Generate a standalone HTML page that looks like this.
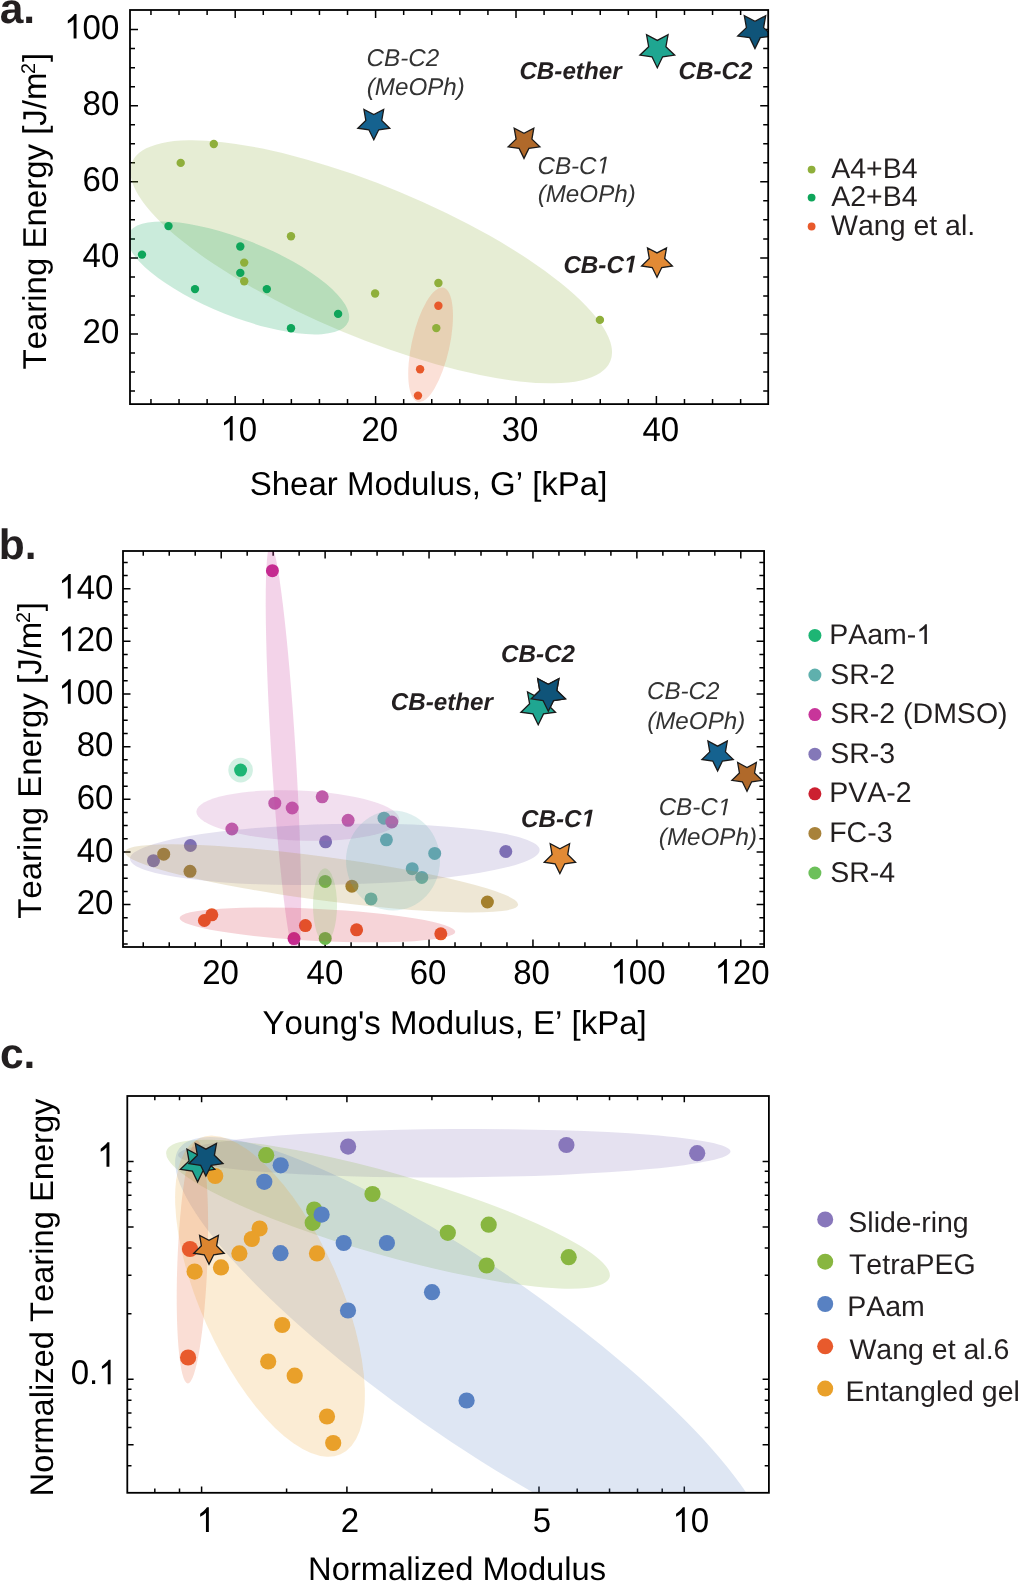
<!DOCTYPE html>
<html><head><meta charset="utf-8"><style>
html,body{margin:0;padding:0;background:#fff;width:1020px;height:1581px;overflow:hidden}
svg{display:block;will-change:transform}
text{font-family:"Liberation Sans",sans-serif;font-kerning:none;text-rendering:geometricPrecision}
</style></head><body>
<svg width="1020" height="1581" viewBox="0 0 1020 1581">
<path d="M235.20,404.1v-8M235.20,10v8M375.60,404.1v-8M375.60,10v8M516.00,404.1v-8M516.00,10v8M656.40,404.1v-8M656.40,10v8" stroke="#000" stroke-width="1.5" fill="none"/>
<path d="M150.96,404.1v-5M150.96,10v5M179.04,404.1v-5M179.04,10v5M207.12,404.1v-5M207.12,10v5M263.28,404.1v-5M263.28,10v5M291.36,404.1v-5M291.36,10v5M319.44,404.1v-5M319.44,10v5M347.52,404.1v-5M347.52,10v5M403.68,404.1v-5M403.68,10v5M431.76,404.1v-5M431.76,10v5M459.84,404.1v-5M459.84,10v5M487.92,404.1v-5M487.92,10v5M544.08,404.1v-5M544.08,10v5M572.16,404.1v-5M572.16,10v5M600.24,404.1v-5M600.24,10v5M628.32,404.1v-5M628.32,10v5M684.48,404.1v-5M684.48,10v5M712.56,404.1v-5M712.56,10v5M740.64,404.1v-5M740.64,10v5" stroke="#000" stroke-width="1.5" fill="none"/>
<path d="M130,334.00h8M768.2,334.00h-8M130,257.90h8M768.2,257.90h-8M130,181.80h8M768.2,181.80h-8M130,105.70h8M768.2,105.70h-8M130,29.60h8M768.2,29.60h-8" stroke="#000" stroke-width="1.5" fill="none"/>
<path d="M130,391.08h5M768.2,391.08h-5M130,372.05h5M768.2,372.05h-5M130,353.03h5M768.2,353.03h-5M130,314.98h5M768.2,314.98h-5M130,295.95h5M768.2,295.95h-5M130,276.93h5M768.2,276.93h-5M130,238.88h5M768.2,238.88h-5M130,219.85h5M768.2,219.85h-5M130,200.82h5M768.2,200.82h-5M130,162.78h5M768.2,162.78h-5M130,143.75h5M768.2,143.75h-5M130,124.72h5M768.2,124.72h-5M130,86.68h5M768.2,86.68h-5M130,67.65h5M768.2,67.65h-5M130,48.62h5M768.2,48.62h-5" stroke="#000" stroke-width="1.5" fill="none"/>
<clipPath id="ca"><rect x="130" y="10" width="638.20" height="394.10"/></clipPath>
<g clip-path="url(#ca)">
<ellipse cx="371.2" cy="261.8" rx="259.0" ry="75.4" transform="rotate(22.61 371.2 261.8)" fill="#8faf3b" fill-opacity="0.22"/>
<ellipse cx="238.3" cy="277.9" rx="118.4" ry="38.3" transform="rotate(21.77 238.3 277.9)" fill="#0ea55a" fill-opacity="0.22"/>
<ellipse cx="430.6" cy="344.8" rx="58.6" ry="18.9" transform="rotate(-77.49 430.6 344.8)" fill="#e8592b" fill-opacity="0.19"/>
<circle cx="213.8" cy="144.0" r="4.2" fill="#8faf3b"/>
<circle cx="180.7" cy="162.9" r="4.2" fill="#8faf3b"/>
<circle cx="291.0" cy="236.2" r="4.2" fill="#8faf3b"/>
<circle cx="244.2" cy="262.6" r="4.2" fill="#8faf3b"/>
<circle cx="244.2" cy="281.3" r="4.2" fill="#8faf3b"/>
<circle cx="375.1" cy="293.5" r="4.2" fill="#8faf3b"/>
<circle cx="438.4" cy="283.0" r="4.2" fill="#8faf3b"/>
<circle cx="436.3" cy="328.1" r="4.2" fill="#8faf3b"/>
<circle cx="599.9" cy="319.9" r="4.2" fill="#8faf3b"/>
<circle cx="168.5" cy="226.1" r="4.2" fill="#0ea55a"/>
<circle cx="142.0" cy="254.6" r="4.2" fill="#0ea55a"/>
<circle cx="240.3" cy="246.5" r="4.2" fill="#0ea55a"/>
<circle cx="240.3" cy="272.9" r="4.2" fill="#0ea55a"/>
<circle cx="195.0" cy="289.1" r="4.2" fill="#0ea55a"/>
<circle cx="266.8" cy="289.1" r="4.2" fill="#0ea55a"/>
<circle cx="338.1" cy="313.9" r="4.2" fill="#0ea55a"/>
<circle cx="291.0" cy="328.3" r="4.2" fill="#0ea55a"/>
<circle cx="438.4" cy="305.8" r="4.2" fill="#e8592b"/>
<circle cx="420.1" cy="369.2" r="4.2" fill="#e8592b"/>
<circle cx="418.0" cy="395.6" r="4.2" fill="#e8592b"/>
<polygon points="373.80,139.80 368.88,129.77 357.82,128.19 365.84,120.41 363.93,109.41 373.80,114.63 383.67,109.41 381.76,120.41 389.78,128.19 378.72,129.77" fill="#15628f" stroke="#1a1a1a" stroke-width="1.3" stroke-linejoin="miter" stroke-miterlimit="10"/>
<polygon points="755.00,48.60 749.70,37.70 737.69,36.02 746.42,27.61 744.30,15.68 755.00,21.38 765.70,15.68 763.58,27.61 772.31,36.02 760.30,37.70" fill="#0f5479" stroke="#1a1a1a" stroke-width="1.3" stroke-linejoin="miter" stroke-miterlimit="10"/>
<polygon points="657.30,67.80 651.97,56.84 639.90,55.16 648.67,46.70 646.54,34.69 657.30,40.43 668.06,34.69 665.93,46.70 674.70,55.16 662.63,56.84" fill="#1fa691" stroke="#1a1a1a" stroke-width="1.3" stroke-linejoin="miter" stroke-miterlimit="10"/>
<polygon points="524.00,158.40 519.11,148.43 508.12,146.86 516.09,139.13 514.18,128.19 524.00,133.38 533.82,128.19 531.91,139.13 539.88,146.86 528.89,148.43" fill="#b0692a" stroke="#1a1a1a" stroke-width="1.3" stroke-linejoin="miter" stroke-miterlimit="10"/>
<polygon points="657.00,277.20 652.25,267.54 641.59,266.01 649.31,258.50 647.48,247.89 657.00,252.92 666.52,247.89 664.69,258.50 672.41,266.01 661.75,267.54" fill="#e28a35" stroke="#1a1a1a" stroke-width="1.3" stroke-linejoin="miter" stroke-miterlimit="10"/>
</g>
<rect x="130" y="10" width="638.20" height="394.10" fill="none" stroke="#000" stroke-width="1.8"/>
<g transform="translate(0 440.60) scale(1 1.04) translate(0 -440.60)">
<polygon points="229.79,440.60 232.69,440.60 232.69,416.99 230.80,416.99 229.42,418.70 227.48,420.47 223.99,423.24 223.99,426.04 227.16,424.33 229.79,422.13" fill="#000"/>
<text x="238.75" y="440.60" font-size="33" font-weight="normal" font-style="normal" fill="#000">0</text>
</g>
<g transform="translate(0 440.60) scale(1 1.04) translate(0 -440.60)">
<text x="361.46" y="440.60" font-size="33" font-weight="normal" font-style="normal" fill="#000">20</text>
</g>
<g transform="translate(0 440.60) scale(1 1.04) translate(0 -440.60)">
<text x="501.76" y="440.60" font-size="33" font-weight="normal" font-style="normal" fill="#000">30</text>
</g>
<g transform="translate(0 440.60) scale(1 1.04) translate(0 -440.60)">
<text x="642.51" y="440.60" font-size="33" font-weight="normal" font-style="normal" fill="#000">40</text>
</g>
<g transform="translate(0 343.00) scale(1 1.04) translate(0 -343.00)">
<text x="82.58" y="343.00" font-size="33" font-weight="normal" font-style="normal" fill="#000">20</text>
</g>
<g transform="translate(0 266.90) scale(1 1.04) translate(0 -266.90)">
<text x="82.58" y="266.90" font-size="33" font-weight="normal" font-style="normal" fill="#000">40</text>
</g>
<g transform="translate(0 190.80) scale(1 1.04) translate(0 -190.80)">
<text x="82.58" y="190.80" font-size="33" font-weight="normal" font-style="normal" fill="#000">60</text>
</g>
<g transform="translate(0 114.70) scale(1 1.04) translate(0 -114.70)">
<text x="82.58" y="114.70" font-size="33" font-weight="normal" font-style="normal" fill="#000">80</text>
</g>
<g transform="translate(0 38.60) scale(1 1.04) translate(0 -38.60)">
<polygon points="73.62,38.60 76.52,38.60 76.52,14.99 74.64,14.99 73.25,16.70 71.32,18.47 67.82,21.24 67.82,24.04 71.00,22.33 73.62,20.13" fill="#000"/>
<text x="82.58" y="38.60" font-size="33" font-weight="normal" font-style="normal" fill="#000">00</text>
</g>
<text x="249.70" y="494.80" font-size="33" font-weight="normal" font-style="normal" fill="#000">Shear Modulus, G’ [kPa]</text>
<g transform="translate(46.00,369.60) rotate(-90)">
<text x="0.00" y="0.00" font-size="33" font-weight="normal" font-style="normal" fill="#000">Tearing Energy [J/m</text>
<text x="295.71" y="-11.00" font-size="19.8" font-weight="normal" font-style="normal" fill="#000">2</text>
<text x="307.52" y="0.00" font-size="33" font-weight="normal" font-style="normal" fill="#000">]</text>
</g>
<text x="-0.35" y="22.60" font-size="42.5" font-weight="bold" font-style="normal" fill="#231f20">a.</text>
<text x="366.56" y="65.50" font-size="24.2" font-weight="normal" font-style="italic" fill="#333">CB-C2</text>
<text x="366.77" y="94.70" font-size="24.2" font-weight="normal" font-style="italic" fill="#333">(MeOPh)</text>
<text x="519.42" y="78.60" font-size="24.2" font-weight="bold" font-style="italic" fill="#231f20">CB-ether</text>
<text x="678.62" y="78.60" font-size="24.2" font-weight="bold" font-style="italic" fill="#231f20">CB-C2</text>
<text x="537.46" y="173.50" font-size="24.2" font-weight="normal" font-style="italic" fill="#333">CB-C</text>
<polygon points="601.49,173.50 603.62,173.50 606.86,156.85 604.90,156.85 600.45,159.56 600.03,161.68 604.30,159.05" fill="#333"/>
<text x="537.67" y="202.40" font-size="24.2" font-weight="normal" font-style="italic" fill="#333">(MeOPh)</text>
<text x="563.42" y="272.50" font-size="24.2" font-weight="bold" font-style="italic" fill="#231f20">CB-C</text>
<polygon points="628.40,272.50 631.72,272.50 634.97,255.85 631.78,255.85 627.10,258.56 626.54,261.42 631.04,258.89" fill="#231f20"/>
<circle cx="811.6" cy="169.6" r="3.9" fill="#8faf3b"/>
<text x="831.14" y="177.60" font-size="28.5" font-weight="normal" font-style="normal" fill="#231f20">A4+B4</text>
<circle cx="811.6" cy="197.6" r="3.9" fill="#0ea55a"/>
<text x="831.14" y="205.60" font-size="28.5" font-weight="normal" font-style="normal" fill="#231f20">A2+B4</text>
<circle cx="811.6" cy="226.5" r="3.9" fill="#e8592b"/>
<text x="831.07" y="234.50" font-size="28.5" font-weight="normal" font-style="normal" fill="#231f20">Wang et al.</text>
<path d="M221.20,947.0v-7.5M221.20,551.0v7.5M325.12,947.0v-7.5M325.12,551.0v7.5M429.04,947.0v-7.5M429.04,551.0v7.5M532.96,947.0v-7.5M532.96,551.0v7.5M636.88,947.0v-7.5M636.88,551.0v7.5M740.80,947.0v-7.5M740.80,551.0v7.5" stroke="#000" stroke-width="1.5" fill="none"/>
<path d="M143.26,947.0v-4.7M143.26,551.0v4.7M169.24,947.0v-4.7M169.24,551.0v4.7M195.22,947.0v-4.7M195.22,551.0v4.7M247.18,947.0v-4.7M247.18,551.0v4.7M273.16,947.0v-4.7M273.16,551.0v4.7M299.14,947.0v-4.7M299.14,551.0v4.7M351.10,947.0v-4.7M351.10,551.0v4.7M377.08,947.0v-4.7M377.08,551.0v4.7M403.06,947.0v-4.7M403.06,551.0v4.7M455.02,947.0v-4.7M455.02,551.0v4.7M481.00,947.0v-4.7M481.00,551.0v4.7M506.98,947.0v-4.7M506.98,551.0v4.7M558.94,947.0v-4.7M558.94,551.0v4.7M584.92,947.0v-4.7M584.92,551.0v4.7M610.90,947.0v-4.7M610.90,551.0v4.7M662.86,947.0v-4.7M662.86,551.0v4.7M688.84,947.0v-4.7M688.84,551.0v4.7M714.82,947.0v-4.7M714.82,551.0v4.7" stroke="#000" stroke-width="1.5" fill="none"/>
<path d="M123.0,904.60h7.5M764.1,904.60h-7.5M123.0,851.95h7.5M764.1,851.95h-7.5M123.0,799.30h7.5M764.1,799.30h-7.5M123.0,746.65h7.5M764.1,746.65h-7.5M123.0,694.00h7.5M764.1,694.00h-7.5M123.0,641.35h7.5M764.1,641.35h-7.5M123.0,588.70h7.5M764.1,588.70h-7.5" stroke="#000" stroke-width="1.5" fill="none"/>
<path d="M123.0,944.09h4.7M764.1,944.09h-4.7M123.0,930.92h4.7M764.1,930.92h-4.7M123.0,917.76h4.7M764.1,917.76h-4.7M123.0,891.44h4.7M764.1,891.44h-4.7M123.0,878.28h4.7M764.1,878.28h-4.7M123.0,865.11h4.7M764.1,865.11h-4.7M123.0,838.79h4.7M764.1,838.79h-4.7M123.0,825.62h4.7M764.1,825.62h-4.7M123.0,812.46h4.7M764.1,812.46h-4.7M123.0,786.14h4.7M764.1,786.14h-4.7M123.0,772.98h4.7M764.1,772.98h-4.7M123.0,759.81h4.7M764.1,759.81h-4.7M123.0,733.49h4.7M764.1,733.49h-4.7M123.0,720.33h4.7M764.1,720.33h-4.7M123.0,707.16h4.7M764.1,707.16h-4.7M123.0,680.84h4.7M764.1,680.84h-4.7M123.0,667.68h4.7M764.1,667.68h-4.7M123.0,654.51h4.7M764.1,654.51h-4.7M123.0,628.19h4.7M764.1,628.19h-4.7M123.0,615.03h4.7M764.1,615.03h-4.7M123.0,601.86h4.7M764.1,601.86h-4.7M123.0,575.54h4.7M764.1,575.54h-4.7M123.0,562.38h4.7M764.1,562.38h-4.7" stroke="#000" stroke-width="1.5" fill="none"/>
<clipPath id="cb"><rect x="123.0" y="551.0" width="641.10" height="396.00"/></clipPath>
<g clip-path="url(#cb)">
<circle cx="240.6" cy="770.1" r="12.3" fill="#1db574" fill-opacity="0.2"/>
<circle cx="240.6" cy="770.1" r="6.5" fill="#1db574"/>
<circle cx="384.0" cy="818.2" r="6.5" fill="#5fb0ad"/>
<circle cx="386.4" cy="839.8" r="6.5" fill="#5fb0ad"/>
<circle cx="434.7" cy="853.4" r="6.5" fill="#5fb0ad"/>
<circle cx="412.2" cy="868.7" r="6.5" fill="#5fb0ad"/>
<circle cx="421.8" cy="877.4" r="6.5" fill="#5fb0ad"/>
<circle cx="371.0" cy="898.9" r="6.5" fill="#5fb0ad"/>
<circle cx="231.9" cy="829.0" r="6.5" fill="#c05aa8"/>
<circle cx="274.8" cy="803.2" r="6.5" fill="#c05aa8"/>
<circle cx="292.2" cy="808.0" r="6.5" fill="#c05aa8"/>
<circle cx="322.2" cy="796.8" r="6.5" fill="#c05aa8"/>
<circle cx="348.1" cy="820.3" r="6.5" fill="#c05aa8"/>
<circle cx="391.8" cy="822.0" r="6.5" fill="#c05aa8"/>
<circle cx="272.4" cy="570.7" r="6.5" fill="#c4288f"/>
<circle cx="294.0" cy="938.6" r="6.5" fill="#c4288f"/>
<circle cx="153.5" cy="860.7" r="6.5" fill="#7e70b5"/>
<circle cx="190.4" cy="845.5" r="6.5" fill="#7e70b5"/>
<circle cx="325.6" cy="841.8" r="6.5" fill="#7e70b5"/>
<circle cx="505.8" cy="851.5" r="6.5" fill="#7e70b5"/>
<circle cx="163.7" cy="854.2" r="6.5" fill="#a07c28"/>
<circle cx="190.0" cy="871.3" r="6.5" fill="#a07c28"/>
<circle cx="351.9" cy="886.2" r="6.5" fill="#a07c28"/>
<circle cx="487.4" cy="902.0" r="6.5" fill="#a07c28"/>
<circle cx="325.2" cy="881.4" r="6.5" fill="#6cb84c"/>
<circle cx="325.2" cy="938.4" r="6.5" fill="#6cb84c"/>
<circle cx="204.4" cy="920.5" r="6.5" fill="#e85a26"/>
<circle cx="211.8" cy="914.8" r="6.5" fill="#e85a26"/>
<circle cx="305.4" cy="925.6" r="6.5" fill="#e85a26"/>
<circle cx="356.6" cy="929.8" r="6.5" fill="#e85a26"/>
<circle cx="440.8" cy="933.8" r="6.5" fill="#e85a26"/>
<ellipse cx="283.4" cy="752.3" rx="208.0" ry="12.2" transform="rotate(86.46 283.4 752.3)" fill="#c8379b" fill-opacity="0.22"/>
<ellipse cx="297.9" cy="815.5" rx="101.6" ry="25.0" transform="rotate(2.30 297.9 815.5)" fill="#c060b0" fill-opacity="0.2"/>
<ellipse cx="334.8" cy="854.4" rx="204.9" ry="30.4" transform="rotate(-1.25 334.8 854.4)" fill="#7e70b5" fill-opacity="0.2"/>
<ellipse cx="321.5" cy="878.4" rx="198.4" ry="21.8" transform="rotate(7.64 321.5 878.4)" fill="#b09040" fill-opacity="0.22"/>
<ellipse cx="317.4" cy="924.9" rx="138.0" ry="16.0" transform="rotate(2.90 317.4 924.9)" fill="#d02a3a" fill-opacity="0.2"/>
<ellipse cx="393.0" cy="860.6" rx="47.0" ry="50.0" transform="rotate(0.00 393.0 860.6)" fill="#5fb0ad" fill-opacity="0.2"/>
<ellipse cx="325.0" cy="905.3" rx="12.0" ry="37.0" transform="rotate(0.00 325.0 905.3)" fill="#6cb84c" fill-opacity="0.2"/>
<polygon points="548.30,711.30 543.05,700.52 531.18,698.86 539.81,690.54 537.72,678.74 548.30,684.37 558.88,678.74 556.79,690.54 565.42,698.86 553.55,700.52" fill="#0f5479" stroke="#1a1a1a" stroke-width="1.3" stroke-linejoin="miter" stroke-miterlimit="10"/>
<polygon points="538.20,724.80 532.90,713.90 520.89,712.22 529.62,703.81 527.50,691.88 538.20,697.58 548.90,691.88 546.78,703.81 555.51,712.22 543.50,713.90" fill="#1fa691" stroke="#1a1a1a" stroke-width="1.3" stroke-linejoin="miter" stroke-miterlimit="10"/>
<polygon points="548.30,711.30 543.05,700.52 531.18,698.86 539.81,690.54 537.72,678.74 548.30,684.37 558.88,678.74 556.79,690.54 565.42,698.86 553.55,700.52" fill="#0f5479" stroke="#1a1a1a" stroke-width="1.3" stroke-linejoin="miter" stroke-miterlimit="10"/>
<polygon points="559.90,873.60 555.07,863.75 544.21,862.20 552.08,854.56 550.20,843.75 559.90,848.88 569.60,843.75 567.72,854.56 575.59,862.20 564.73,863.75" fill="#e28a35" stroke="#1a1a1a" stroke-width="1.3" stroke-linejoin="miter" stroke-miterlimit="10"/>
<polygon points="717.60,770.90 712.77,761.05 701.91,759.50 709.78,751.86 707.90,741.05 717.60,746.17 727.30,741.05 725.42,751.86 733.29,759.50 722.43,761.05" fill="#15628f" stroke="#1a1a1a" stroke-width="1.3" stroke-linejoin="miter" stroke-miterlimit="10"/>
<polygon points="747.00,791.30 742.33,781.83 731.88,780.31 739.45,772.95 737.65,762.54 747.00,767.46 756.35,762.54 754.55,772.95 762.12,780.31 751.67,781.83" fill="#b0692a" stroke="#1a1a1a" stroke-width="1.3" stroke-linejoin="miter" stroke-miterlimit="10"/>
</g>
<rect x="123.0" y="551.0" width="641.10" height="396.00" fill="none" stroke="#000" stroke-width="1.8"/>
<g transform="translate(0 983.60) scale(1 1.04) translate(0 -983.60)">
<text x="202.26" y="983.60" font-size="33" font-weight="normal" font-style="normal" fill="#000">20</text>
</g>
<g transform="translate(0 983.60) scale(1 1.04) translate(0 -983.60)">
<text x="306.61" y="983.60" font-size="33" font-weight="normal" font-style="normal" fill="#000">40</text>
</g>
<g transform="translate(0 983.60) scale(1 1.04) translate(0 -983.60)">
<text x="409.75" y="983.60" font-size="33" font-weight="normal" font-style="normal" fill="#000">60</text>
</g>
<g transform="translate(0 983.60) scale(1 1.04) translate(0 -983.60)">
<text x="513.27" y="983.60" font-size="33" font-weight="normal" font-style="normal" fill="#000">80</text>
</g>
<g transform="translate(0 983.60) scale(1 1.04) translate(0 -983.60)">
<polygon points="619.91,983.60 622.81,983.60 622.81,959.99 620.93,959.99 619.54,961.70 617.61,963.47 614.11,966.24 614.11,969.04 617.29,967.33 619.91,965.13" fill="#000"/>
<text x="628.87" y="983.60" font-size="33" font-weight="normal" font-style="normal" fill="#000">00</text>
</g>
<g transform="translate(0 983.60) scale(1 1.04) translate(0 -983.60)">
<polygon points="724.01,983.60 726.91,983.60 726.91,959.99 725.03,959.99 723.64,961.70 721.71,963.47 718.21,966.24 718.21,969.04 721.39,967.33 724.01,965.13" fill="#000"/>
<text x="732.97" y="983.60" font-size="33" font-weight="normal" font-style="normal" fill="#000">20</text>
</g>
<g transform="translate(0 914.40) scale(1 1.04) translate(0 -914.40)">
<text x="76.78" y="914.40" font-size="33" font-weight="normal" font-style="normal" fill="#000">20</text>
</g>
<g transform="translate(0 861.75) scale(1 1.04) translate(0 -861.75)">
<text x="76.78" y="861.75" font-size="33" font-weight="normal" font-style="normal" fill="#000">40</text>
</g>
<g transform="translate(0 809.10) scale(1 1.04) translate(0 -809.10)">
<text x="76.78" y="809.10" font-size="33" font-weight="normal" font-style="normal" fill="#000">60</text>
</g>
<g transform="translate(0 756.45) scale(1 1.04) translate(0 -756.45)">
<text x="76.78" y="756.45" font-size="33" font-weight="normal" font-style="normal" fill="#000">80</text>
</g>
<g transform="translate(0 703.80) scale(1 1.04) translate(0 -703.80)">
<polygon points="67.82,703.80 70.72,703.80 70.72,680.19 68.84,680.19 67.45,681.90 65.52,683.67 62.02,686.44 62.02,689.24 65.20,687.53 67.82,685.33" fill="#000"/>
<text x="76.78" y="703.80" font-size="33" font-weight="normal" font-style="normal" fill="#000">00</text>
</g>
<g transform="translate(0 651.15) scale(1 1.04) translate(0 -651.15)">
<polygon points="67.82,651.15 70.72,651.15 70.72,627.54 68.84,627.54 67.45,629.25 65.52,631.02 62.02,633.79 62.02,636.59 65.20,634.88 67.82,632.68" fill="#000"/>
<text x="76.78" y="651.15" font-size="33" font-weight="normal" font-style="normal" fill="#000">20</text>
</g>
<g transform="translate(0 598.50) scale(1 1.04) translate(0 -598.50)">
<polygon points="67.82,598.50 70.72,598.50 70.72,574.89 68.84,574.89 67.45,576.60 65.52,578.37 62.02,581.14 62.02,583.94 65.20,582.23 67.82,580.03" fill="#000"/>
<text x="76.78" y="598.50" font-size="33" font-weight="normal" font-style="normal" fill="#000">40</text>
</g>
<text x="262.57" y="1033.80" font-size="33" font-weight="normal" font-style="normal" fill="#000">Young's Modulus, E’ [kPa]</text>
<g transform="translate(40.90,918.80) rotate(-90)">
<text x="0.00" y="0.00" font-size="33" font-weight="normal" font-style="normal" fill="#000">Tearing Energy [J/m</text>
<text x="295.71" y="-11.00" font-size="19.8" font-weight="normal" font-style="normal" fill="#000">2</text>
<text x="307.52" y="0.00" font-size="33" font-weight="normal" font-style="normal" fill="#000">]</text>
</g>
<text x="-1.20" y="558.80" font-size="42.5" font-weight="bold" font-style="normal" fill="#231f20">b.</text>
<text x="501.12" y="661.50" font-size="24.2" font-weight="bold" font-style="italic" fill="#231f20">CB-C2</text>
<text x="390.72" y="709.50" font-size="24.2" font-weight="bold" font-style="italic" fill="#231f20">CB-ether</text>
<text x="521.12" y="826.50" font-size="24.2" font-weight="bold" font-style="italic" fill="#231f20">CB-C</text>
<polygon points="586.10,826.50 589.42,826.50 592.67,809.85 589.48,809.85 584.80,812.56 584.24,815.42 588.74,812.89" fill="#231f20"/>
<text x="646.96" y="698.70" font-size="24.2" font-weight="normal" font-style="italic" fill="#333">CB-C2</text>
<text x="647.17" y="728.60" font-size="24.2" font-weight="normal" font-style="italic" fill="#333">(MeOPh)</text>
<text x="658.66" y="815.30" font-size="24.2" font-weight="normal" font-style="italic" fill="#333">CB-C</text>
<polygon points="722.69,815.30 724.82,815.30 728.06,798.65 726.10,798.65 721.65,801.36 721.23,803.48 725.50,800.85" fill="#333"/>
<text x="658.87" y="844.70" font-size="24.2" font-weight="normal" font-style="italic" fill="#333">(MeOPh)</text>
<circle cx="814.9" cy="635.4" r="6.5" fill="#1db574"/>
<text x="829.16" y="643.90" font-size="28.5" font-weight="normal" font-style="normal" fill="#231f20">PAam-</text>
<polygon points="924.38,643.90 926.88,643.90 926.88,624.29 925.25,624.29 924.06,625.71 922.39,627.19 919.37,629.48 919.37,631.81 922.11,630.39 924.38,628.56" fill="#231f20"/>
<circle cx="814.9" cy="675.0" r="6.5" fill="#5fb0ad"/>
<text x="830.21" y="683.50" font-size="28.5" font-weight="normal" font-style="normal" fill="#231f20">SR-2</text>
<circle cx="814.9" cy="714.6" r="6.5" fill="#c8359a"/>
<text x="830.21" y="723.10" font-size="28.5" font-weight="normal" font-style="normal" fill="#231f20">SR-2 (DMSO)</text>
<circle cx="814.9" cy="754.2" r="6.5" fill="#8478b8"/>
<text x="830.21" y="762.70" font-size="28.5" font-weight="normal" font-style="normal" fill="#231f20">SR-3</text>
<circle cx="814.9" cy="793.8" r="6.5" fill="#cc2030"/>
<text x="829.16" y="802.30" font-size="28.5" font-weight="normal" font-style="normal" fill="#231f20">PVA-2</text>
<circle cx="814.9" cy="833.4" r="6.5" fill="#a8823a"/>
<text x="829.16" y="841.90" font-size="28.5" font-weight="normal" font-style="normal" fill="#231f20">FC-3</text>
<circle cx="814.9" cy="873.0" r="6.5" fill="#6cc05a"/>
<text x="830.21" y="881.50" font-size="28.5" font-weight="normal" font-style="normal" fill="#231f20">SR-4</text>
<path d="M201.60,1492.8v-6.3M201.60,1096.0v6.3M346.91,1492.8v-6.3M346.91,1096.0v6.3M538.99,1492.8v-6.3M538.99,1096.0v6.3M684.30,1492.8v-6.3M684.30,1096.0v6.3" stroke="#000" stroke-width="1.5" fill="none"/>
<path d="M154.82,1492.8v-4.2M154.82,1096.0v4.2M179.51,1492.8v-4.2M179.51,1096.0v4.2M286.60,1492.8v-4.2M286.60,1096.0v4.2M431.91,1492.8v-4.2M431.91,1096.0v4.2M492.21,1492.8v-4.2M492.21,1096.0v4.2M577.21,1492.8v-4.2M577.21,1096.0v4.2M609.53,1492.8v-4.2M609.53,1096.0v4.2M637.52,1492.8v-4.2M637.52,1096.0v4.2M662.21,1492.8v-4.2M662.21,1096.0v4.2" stroke="#000" stroke-width="1.5" fill="none"/>
<path d="M127.3,1161.40h6.3M768.9,1161.40h-6.3M127.3,1379.20h6.3M768.9,1379.20h-6.3M127.3,1226.96h6.3M768.9,1226.96h-6.3M127.3,1444.76h6.3M768.9,1444.76h-6.3" stroke="#000" stroke-width="1.5" fill="none"/>
<path d="M127.3,1171.37h4.2M768.9,1171.37h-4.2M127.3,1182.51h4.2M768.9,1182.51h-4.2M127.3,1195.14h4.2M768.9,1195.14h-4.2M127.3,1209.72h4.2M768.9,1209.72h-4.2M127.3,1248.07h4.2M768.9,1248.07h-4.2M127.3,1275.28h4.2M768.9,1275.28h-4.2M127.3,1313.64h4.2M768.9,1313.64h-4.2M127.3,1389.17h4.2M768.9,1389.17h-4.2M127.3,1400.31h4.2M768.9,1400.31h-4.2M127.3,1412.94h4.2M768.9,1412.94h-4.2M127.3,1427.52h4.2M768.9,1427.52h-4.2M127.3,1465.87h4.2M768.9,1465.87h-4.2" stroke="#000" stroke-width="1.5" fill="none"/>
<clipPath id="cc"><rect x="127.3" y="1096.0" width="641.60" height="396.80"/></clipPath>
<g clip-path="url(#cc)">
<ellipse cx="454.3" cy="1153.2" rx="276.2" ry="24.2" transform="rotate(-0.36 454.3 1153.2)" fill="#8877bb" fill-opacity="0.22"/>
<ellipse cx="388.0" cy="1214.2" rx="230.4" ry="41.1" transform="rotate(15.90 388.0 1214.2)" fill="#88b640" fill-opacity="0.22"/>
<ellipse cx="470.9" cy="1352.9" rx="356.2" ry="84.6" transform="rotate(35.01 470.9 1352.9)" fill="#5881c2" fill-opacity="0.2"/>
<ellipse cx="192.4" cy="1262.0" rx="121.5" ry="15.0" transform="rotate(92.20 192.4 1262.0)" fill="#e85a2c" fill-opacity="0.2"/>
<ellipse cx="270.0" cy="1296.2" rx="173.1" ry="69.5" transform="rotate(65.94 270.0 1296.2)" fill="#e9a02a" fill-opacity="0.2"/>
<circle cx="348.1" cy="1146.6" r="8.1" fill="#8877bb"/>
<circle cx="566.4" cy="1145.0" r="8.1" fill="#8877bb"/>
<circle cx="697.2" cy="1153.2" r="8.1" fill="#8877bb"/>
<circle cx="266.2" cy="1155.2" r="8.1" fill="#88b640"/>
<circle cx="372.5" cy="1194.0" r="8.1" fill="#88b640"/>
<circle cx="314.2" cy="1209.6" r="8.1" fill="#88b640"/>
<circle cx="312.7" cy="1222.8" r="8.1" fill="#88b640"/>
<circle cx="447.8" cy="1232.8" r="8.1" fill="#88b640"/>
<circle cx="488.7" cy="1224.7" r="8.1" fill="#88b640"/>
<circle cx="486.6" cy="1265.5" r="8.1" fill="#88b640"/>
<circle cx="568.7" cy="1257.2" r="8.1" fill="#88b640"/>
<circle cx="280.7" cy="1165.3" r="8.1" fill="#5881c2"/>
<circle cx="264.3" cy="1181.8" r="8.1" fill="#5881c2"/>
<circle cx="321.6" cy="1214.6" r="8.1" fill="#5881c2"/>
<circle cx="343.7" cy="1243.0" r="8.1" fill="#5881c2"/>
<circle cx="386.9" cy="1243.0" r="8.1" fill="#5881c2"/>
<circle cx="280.5" cy="1253.2" r="8.1" fill="#5881c2"/>
<circle cx="432.0" cy="1292.2" r="8.1" fill="#5881c2"/>
<circle cx="348.0" cy="1310.5" r="8.1" fill="#5881c2"/>
<circle cx="466.6" cy="1400.5" r="8.1" fill="#5881c2"/>
<circle cx="190.0" cy="1249.0" r="8.1" fill="#e85a2c"/>
<circle cx="188.1" cy="1357.5" r="8.1" fill="#e85a2c"/>
<circle cx="215.2" cy="1176.0" r="8.1" fill="#e9a02a"/>
<circle cx="259.6" cy="1228.5" r="8.1" fill="#e9a02a"/>
<circle cx="251.8" cy="1239.0" r="8.1" fill="#e9a02a"/>
<circle cx="239.4" cy="1253.4" r="8.1" fill="#e9a02a"/>
<circle cx="317.0" cy="1253.4" r="8.1" fill="#e9a02a"/>
<circle cx="194.6" cy="1271.6" r="8.1" fill="#e9a02a"/>
<circle cx="221.0" cy="1267.4" r="8.1" fill="#e9a02a"/>
<circle cx="282.2" cy="1325.0" r="8.1" fill="#e9a02a"/>
<circle cx="268.2" cy="1361.5" r="8.1" fill="#e9a02a"/>
<circle cx="294.7" cy="1375.7" r="8.1" fill="#e9a02a"/>
<circle cx="327.0" cy="1416.5" r="8.1" fill="#e9a02a"/>
<circle cx="333.2" cy="1443.0" r="8.1" fill="#e9a02a"/>
<polygon points="197.60,1181.90 192.32,1171.06 180.39,1169.39 189.06,1161.03 186.96,1149.16 197.60,1154.82 208.24,1149.16 206.14,1161.03 214.81,1169.39 202.88,1171.06" fill="#1fa691" stroke="#1a1a1a" stroke-width="1.3" stroke-linejoin="miter" stroke-miterlimit="10"/>
<polygon points="205.90,1176.10 200.65,1165.32 188.78,1163.66 197.41,1155.34 195.32,1143.54 205.90,1149.17 216.48,1143.54 214.39,1155.34 223.02,1163.66 211.15,1165.32" fill="#0f5479" stroke="#1a1a1a" stroke-width="1.3" stroke-linejoin="miter" stroke-miterlimit="10"/>
<polygon points="209.00,1264.30 204.30,1254.76 193.78,1253.24 201.40,1245.83 199.60,1235.36 209.00,1240.31 218.40,1235.36 216.60,1245.83 224.22,1253.24 213.70,1254.76" fill="#dc852f" stroke="#1a1a1a" stroke-width="1.3" stroke-linejoin="miter" stroke-miterlimit="10"/>
</g>
<rect x="127.3" y="1096.0" width="641.60" height="396.80" fill="none" stroke="#000" stroke-width="1.8"/>
<g transform="translate(0 1531.90) scale(1 1.04) translate(0 -1531.90)">
<polygon points="205.95,1531.90 208.85,1531.90 208.85,1508.29 206.97,1508.29 205.58,1510.00 203.65,1511.77 200.15,1514.54 200.15,1517.34 203.32,1515.63 205.95,1513.43" fill="#000"/>
</g>
<g transform="translate(0 1531.90) scale(1 1.04) translate(0 -1531.90)">
<text x="340.72" y="1531.90" font-size="33" font-weight="normal" font-style="normal" fill="#000">2</text>
</g>
<g transform="translate(0 1531.90) scale(1 1.04) translate(0 -1531.90)">
<text x="532.86" y="1531.90" font-size="33" font-weight="normal" font-style="normal" fill="#000">5</text>
</g>
<g transform="translate(0 1531.90) scale(1 1.04) translate(0 -1531.90)">
<polygon points="681.89,1531.90 684.79,1531.90 684.79,1508.29 682.90,1508.29 681.52,1510.00 679.58,1511.77 676.09,1514.54 676.09,1517.34 679.26,1515.63 681.89,1513.43" fill="#000"/>
<text x="690.85" y="1531.90" font-size="33" font-weight="normal" font-style="normal" fill="#000">0</text>
</g>
<g transform="translate(0 1166.80) scale(1 1.04) translate(0 -1166.80)">
<polygon points="106.50,1166.80 109.40,1166.80 109.40,1143.19 107.51,1143.19 106.13,1144.90 104.20,1146.67 100.70,1149.44 100.70,1152.24 103.87,1150.53 106.50,1148.33" fill="#000"/>
</g>
<g transform="translate(0 1384.20) scale(1 1.04) translate(0 -1384.20)">
<text x="70.78" y="1384.20" font-size="33" font-weight="normal" font-style="normal" fill="#000">0.</text>
<polygon points="107.70,1384.20 110.60,1384.20 110.60,1360.59 108.71,1360.59 107.33,1362.30 105.40,1364.07 101.90,1366.84 101.90,1369.64 105.07,1367.93 107.70,1365.73" fill="#000"/>
</g>
<text x="308.12" y="1579.70" font-size="32.7" font-weight="normal" font-style="normal" fill="#000">Normalized Modulus</text>
<g transform="translate(52.80,1496.40) rotate(-90)">
<text x="0.00" y="0.00" font-size="32.7" font-weight="normal" font-style="normal" fill="#000">Normalized Tearing Energy</text>
</g>
<text x="-0.06" y="1068.20" font-size="42.5" font-weight="bold" font-style="normal" fill="#231f20">c.</text>
<circle cx="825.2" cy="1219.4" r="8.0" fill="#8877bb"/>
<text x="848.31" y="1231.60" font-size="28.5" font-weight="normal" font-style="normal" fill="#231f20">Slide-ring</text>
<circle cx="825.2" cy="1261.7" r="8.0" fill="#88b640"/>
<text x="848.96" y="1273.90" font-size="28.5" font-weight="normal" font-style="normal" fill="#231f20">TetraPEG</text>
<circle cx="825.2" cy="1304.0" r="8.0" fill="#5881c2"/>
<text x="847.26" y="1316.20" font-size="28.5" font-weight="normal" font-style="normal" fill="#231f20">PAam</text>
<circle cx="825.2" cy="1346.3" r="8.0" fill="#e85a2c"/>
<text x="849.47" y="1358.50" font-size="28.5" font-weight="normal" font-style="normal" fill="#231f20">Wang et al.6</text>
<circle cx="825.2" cy="1388.6" r="8.0" fill="#e9a02a"/>
<text x="845.56" y="1400.80" font-size="28.5" font-weight="normal" font-style="normal" fill="#231f20">Entangled gel</text>
</svg>
</body></html>
